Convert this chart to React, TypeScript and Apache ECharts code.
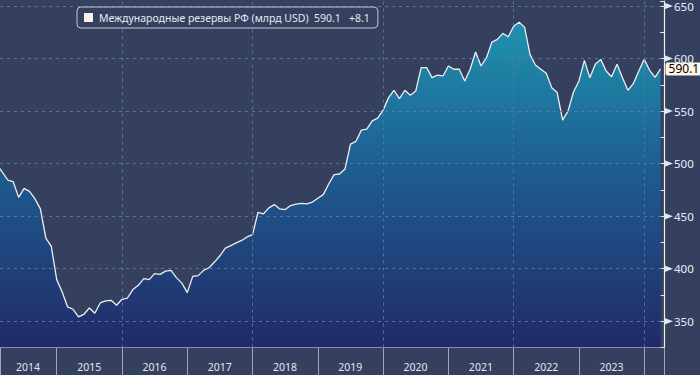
import React, { useEffect, useRef } from 'react';
import * as echarts from 'echarts';

const SERIES_NAME = 'Международные резервы РФ (млрд USD)';
const START_YEAR = 2014; // first point = end of Jan 2014, monthly

const V2014 = [499, 492, 484.4, 482.8, 467.9, 476.5, 473.6, 466.4, 456.9, 429, 421.2, 389.6];
const V2015 = [377.8, 363.6, 361.4, 354.1, 356.6, 362.6, 357.6, 367.4, 369.3, 369.9, 365.2, 370.9];
const V2016 = [372.1, 380.1, 384.2, 390.5, 389.6, 395.3, 394.6, 397.7, 398.4, 391.5, 386.3, 377.2];
const V2017 = [392.7, 393.4, 398.4, 400.9, 406.3, 412.3, 419.5, 422, 424.5, 426.9, 430.2, 432.5];
const V2018 = [453.7, 452.2, 457.9, 461, 456.9, 456.3, 460.1, 461.5, 462.2, 461.7, 463.4, 467];
const V2019 = [470.5, 480.6, 489.5, 490.1, 494.9, 518.6, 521.1, 531.9, 532.8, 540.7, 543.3, 550.9];
const V2020 = [562.8, 569.8, 561.8, 569.8, 565.1, 569.2, 591.3, 591.3, 581.8, 584.3, 583.4, 592.9];
const V2021 = [589.8, 589.8, 578.7, 589.8, 606.2, 592.9, 600.8, 615.7, 618.2, 623.9, 620.7, 630.8];
const V2022 = [634.6, 629.9, 604, 593.8, 589.8, 586, 572.3, 567.6, 541.4, 550.2, 568.2, 578.7];
const V2023 = [598.3, 581.8, 594.5, 599.2, 588.1, 582.7, 594.5, 581.8, 569.8, 576.1, 588.1, 599.2];
const V2024 = [588.8, 582.0, 590.1];

const YEAR_LABELS = ['2014', '2015', '2016', '2017', '2018', '2019', '2020', '2021', '2022', '2023'];
const Y_TICKS = [350, 400, 450, 500, 550, 600, 650];
const X_GRID_YEARS = [2016, 2018, 2020, 2022, 2024];

const X_MIN = 2014.131;
const X_MAX = 2024.303;
const Y_MIN = 325;
const Y_MAX = 654.75;

const BG = '#34405e';
const GRID_C = '#5d78a6';

export default function App() {
  const ref = useRef<HTMLDivElement>(null);
  useEffect(() => {
    if (!ref.current) return;
    const chart = echarts.init(ref.current, undefined, { renderer: 'svg' });
    const values = [
      ...V2014, ...V2015, ...V2016, ...V2017, ...V2018,
      ...V2019, ...V2020, ...V2021, ...V2022, ...V2023, ...V2024,
    ];
    const data = values.map((v, i) => [START_YEAR + (i + 1) / 12, v]);
    const last = values[values.length - 1];
    const prev = values[values.length - 2];
    const diff = last - prev;
    const legendText = `${SERIES_NAME}  ${last.toFixed(1)}   ${diff >= 0 ? '+' : ''}${diff.toFixed(1)}`;

    const gridLineStyle = { color: GRID_C, type: [3, 4] as any, width: 1, opacity: 0.9 };

    chart.setOption({
      animation: false,
      backgroundColor: BG,
      textStyle: { fontFamily: 'Noto Sans' },
      grid: { left: 0, right: 36, top: 0, bottom: 27.5, containLabel: false },
      legend: {
        data: [SERIES_NAME],
        left: 77,
        top: 7,
        padding: [5, 8, 5, 7],
        backgroundColor: BG,
        borderColor: '#c4c8d0',
        borderWidth: 1,
        borderRadius: 4,
        icon: 'rect',
        itemWidth: 9,
        itemHeight: 9,
        itemGap: 6,
        itemStyle: { color: '#fdeeee', borderWidth: 0 },
        lineStyle: { width: 0 },
        formatter: () => legendText,
        textStyle: { color: '#e6e9f2', fontSize: 10.5, fontFamily: 'Noto Sans', padding: [0, 0, 0, 1] },
        selectedMode: false,
        z: 10,
      },
      xAxis: {
        type: 'value',
        min: X_MIN,
        max: X_MAX,
        minInterval: 1,
        maxInterval: 1,
        splitNumber: 10,
        axisLine: { show: true, lineStyle: { color: '#f0f0f0', width: 1.2 } },
        axisTick: { show: true, length: 28, lineStyle: { color: '#a0a6b6', width: 1 } },
        axisLabel: {
          show: true,
          showMinLabel: true,
          showMaxLabel: true,
          hideOverlap: false,
          margin: 14,
          color: '#e4e7ee',
          fontSize: 10.5,
          fontFamily: 'Noto Sans',
          formatter: (v: number) => {
            const y = Math.floor(v + 1e-6);
            const idx = y - START_YEAR;
            if (idx < 0 || idx >= YEAR_LABELS.length) return '';
            if (Math.abs(v - y) > 1e-6) return `{a|${YEAR_LABELS[idx]}}`;
            return `{b|${YEAR_LABELS[idx]}}`;
          },
          rich: {
            a: { color: '#e4e7ee', fontSize: 10.5, fontFamily: 'Noto Sans', padding: [0, 0, 0, 56] },
            b: { color: '#e4e7ee', fontSize: 10.5, fontFamily: 'Noto Sans', padding: [0, 0, 0, 65] },
          },
        },
        splitLine: { show: false },
      },
      yAxis: {
        type: 'value',
        position: 'right',
        min: Y_MIN,
        max: Y_MAX,
        interval: 25,
        axisLine: { show: true, lineStyle: { color: '#f0f0f0', width: 1.2 } },
        axisTick: { show: true, inside: true, length: 4, lineStyle: { color: '#e0e4ee' } },
        axisLabel: {
          show: true,
          margin: 10,
          color: '#e8eef8',
          fontSize: 11.5,
          fontFamily: 'Noto Sans',
          formatter: (v: number) => (Y_TICKS.includes(v) ? String(v) : ''),
        },
        splitLine: { show: false },
      },
      series: [
        {
          name: SERIES_NAME,
          type: 'line',
          data,
          symbol: 'none',
          smooth: false,
          lineStyle: { color: '#eceef4', width: 1.3 },
          itemStyle: { color: '#fdeeee' },
          areaStyle: {
            color: new echarts.graphic.LinearGradient(0, 0, 0, 1, [
              { offset: 0, color: '#1f93ae' },
              { offset: 0.45, color: '#1d5d90' },
              { offset: 1, color: '#212a68' },
            ]),
            opacity: 1,
          },
          endLabel: {
            show: true,
            formatter: (p: any) => Number(p.value[1]).toFixed(1),
            distance: 5,
            color: '#000',
            fontSize: 12,
            fontFamily: 'Noto Sans',
            backgroundColor: '#fff6e8',
            padding: [1, 3, 0, 3],
            borderRadius: 2,
          },
          markLine: {
            silent: true,
            symbol: 'none',
            label: { show: false },
            lineStyle: gridLineStyle,
            z: 4,
            data: [
              ...Y_TICKS.map((v) => ({ yAxis: v })),
              ...X_GRID_YEARS.map((v) => ({ xAxis: v })),
            ],
          },
          z: 3,
        },
        {
          type: 'custom',
          silent: true,
          clip: false,
          z: 6,
          data: Y_TICKS.map((v) => [X_MIN, v]),
          renderItem: (params: any, api: any) => {
            const pt = api.coord([api.value(0), api.value(1)]);
            const cs = params.coordSys;
            const x = cs.x + cs.width;
            return {
              type: 'polygon',
              shape: { points: [[x, pt[1] - 3.5], [x + 9, pt[1]], [x, pt[1] + 3.5]] },
              style: { fill: '#e2e8f2' },
            };
          },
        },
      ],
    });
    return () => chart.dispose();
  }, []);
  return (
    <div
      ref={ref}
      style={{ position: 'fixed', left: 0, top: 0, width: 700, height: 375 }}
    />
  );
}
